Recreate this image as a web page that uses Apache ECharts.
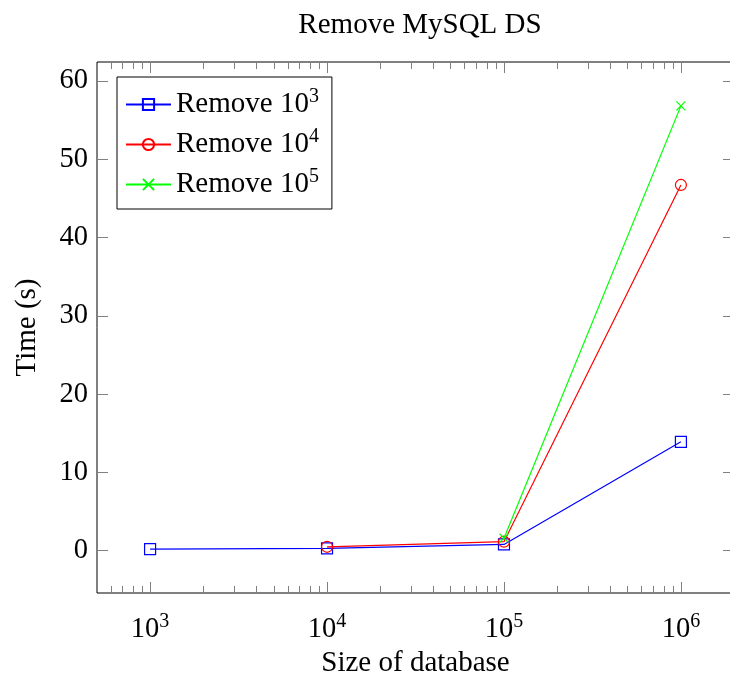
<!DOCTYPE html>
<html>
<head>
<meta charset="utf-8">
<script src="https://cdn.jsdelivr.net/npm/echarts@6/dist/echarts.min.js"></script>
<style>html,body{margin:0;padding:0;background:#fff}#c{width:730px;height:677px}</style>
</head>
<body>
<div id="c"></div>
<script>
// ---- data ----
var dbSizes = [1e3, 1e4, 1e5, 1e6];
var seriesNames = ['Remove 10^3', 'Remove 10^4', 'Remove 10^5'];
var remove1e3 = [0.2, 0.3, 0.8, 13.9];
var remove1e4 = [null, 0.5, 1.15, 46.7];
var remove1e5 = [null, null, 1.6, 56.8];
var xMajorExponents = [3, 4, 5, 6];
var yTicks = [0, 10, 20, 30, 40, 50, 60];

// ---- helpers ----
var FONT = 'Liberation Serif';
var FS = 28.5, FS2 = 29, SFS = 20;
var XMIN = 2.7, XMAX = 6.3, YMIN = -5.4, YMAX = 62.4;
function pairs(vals) {
  var out = [];
  for (var i = 0; i < dbSizes.length; i++) {
    if (vals[i] !== null) out.push([Math.log10(dbSizes[i]), vals[i]]);
  }
  return out;
}
var minorTicks = [];
for (var e = 2; e <= 6; e++) {
  for (var m = 2; m <= 9; m++) {
    var v = Math.log10(m * Math.pow(10, e));
    if (v > XMIN && v < XMAX) minorTicks.push(v);
  }
}
var supRich = {
  b: { fontFamily: FONT, fontSize: FS, color: '#000' },
  s: { fontFamily: FONT, fontSize: SFS, color: '#000', padding: [0, 0, 15, 0] }
};
function xAxisDef(pos, values, len, showLabel) {
  return {
    type: 'value', position: pos, min: XMIN, max: XMAX,
    axisLine: { show: false, onZero: false },
    splitLine: { show: false },
    axisTick: { show: true, inside: true, length: len, customValues: values,
                lineStyle: { color: '#808080', width: 1 } },
    axisLabel: showLabel ? {
      show: true, margin: 19, customValues: xMajorExponents,
      formatter: function (v) { return '{b|10}{s|' + Math.round(v) + '}'; },
      rich: supRich
    } : { show: false }
  };
}
function yAxisDef(pos, showLabel) {
  return {
    type: 'value', position: pos, min: YMIN, max: YMAX,
    axisLine: { show: false, onZero: false },
    splitLine: { show: false },
    axisTick: { show: true, inside: true, length: 11, customValues: yTicks,
                lineStyle: { color: '#808080', width: 1 } },
    axisLabel: showLabel ? { show: true, customValues: yTicks, margin: 9,
                fontFamily: FONT, fontSize: FS, color: '#000' } : { show: false }
  };
}
var xs = [
  xAxisDef('bottom', xMajorExponents, 11, true),
  xAxisDef('bottom', minorTicks, 7, false),
  xAxisDef('top', xMajorExponents, 11, false),
  xAxisDef('top', minorTicks, 7, false)
];
xs[0].name = 'Size of database';
xs[0].nameLocation = 'middle';
xs[0].nameGap = 56;
xs[0].nameTextStyle = { fontFamily: FONT, fontSize: FS2, color: '#000' };
var ys = [yAxisDef('left', true), yAxisDef('right', false)];
ys[0].name = 'Time (s)';
ys[0].nameLocation = 'middle';
ys[0].nameGap = 55;
ys[0].nameTextStyle = { fontFamily: FONT, fontSize: FS2, color: '#000' };

var colors = ['#0000ff', '#ff0000', '#00ff00'];
var symbols = ['rect', 'circle', 'path://M0 0L10 10M10 0L0 10'];
var sizes = [11, 11, 9];
var vals = [remove1e3, remove1e4, remove1e5];
var series = [];
for (var i = 0; i < 3; i++) {
  series.push({
    name: seriesNames[i], type: 'line', xAxisIndex: 0, yAxisIndex: 0,
    data: pairs(vals[i]), color: colors[i],
    symbol: symbols[i], symbolSize: sizes[i], showSymbol: true,
    lineStyle: { color: colors[i], width: 1.2 },
    itemStyle: { color: 'rgba(0,0,0,0)', borderColor: colors[i], borderWidth: 1.2 },
    emphasis: { disabled: true },
    animation: false, z: 2 + i
  });
}

var chart = echarts.init(document.getElementById('c'), null, { renderer: 'canvas' });
chart.setOption({
  backgroundColor: '#fff',
  animation: false,
  title: {
    text: 'Remove MySQL DS', left: 415, top: 6, textAlign: 'center',
    textStyle: { fontFamily: FONT, fontSize: FS2, fontWeight: 'normal', color: '#000' }
  },
  grid: { left: 97, top: 62, width: 637, height: 531, show: true,
          borderColor: '#000', borderWidth: 1, backgroundColor: 'transparent',
          containLabel: false, outerBoundsMode: 'none' },
  legend: {
    left: 117, top: 77, orient: 'vertical',
    backgroundColor: '#fff', borderColor: '#000', borderWidth: 1, borderRadius: 0,
    padding: [10, 13, 10, 8], itemGap: 8, itemWidth: 45, itemHeight: 14,
    data: seriesNames,
    formatter: function (n) {
      var p = n.split('^');
      return '{b|' + p[0] + '}{s|' + p[1] + '}';
    },
    textStyle: { fontFamily: FONT, fontSize: FS2, color: '#000', rich: {
      b: { fontFamily: FONT, fontSize: FS2, color: '#000', lineHeight: 33 },
      s: { fontFamily: FONT, fontSize: SFS, color: '#000', padding: [0, 0, 15, 0] }
    } }
  },
  xAxis: xs,
  yAxis: ys,
  series: series
});
</script>
</body>
</html>
